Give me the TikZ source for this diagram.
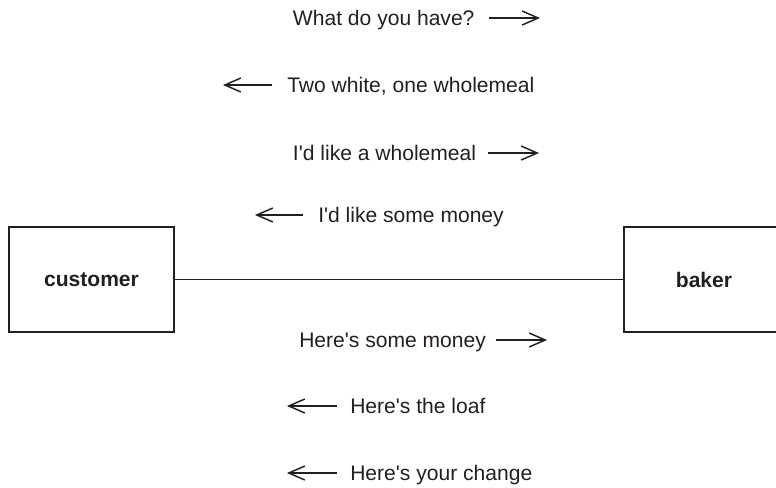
\documentclass[tikz,border=0pt]{standalone}
\usepackage{fontspec}
\setmainfont{Liberation Sans}
\usepackage{xcolor}
\usepackage{tikz}
\usetikzlibrary{arrows.meta}

\definecolor{ink}{RGB}{35,31,32}

\tikzset{
  party/.style={draw=ink, line width=1.3pt, text=ink, inner sep=0pt,
    font=\fontsize{15.8}{19}\selectfont\bfseries},
  msg/.style={text=ink, inner sep=0pt, text height=11.3pt, text depth=0pt,
    font=\fontsize{15.8}{19}\selectfont},
  msgarrow/.style={draw=ink, line width=1.1pt,
    -{Straight Barb[length=12pt,width=10.5pt,line width=1.1pt]}},
  wire/.style={draw=ink, line width=1.2pt}
}

\begin{document}
\begin{tikzpicture}[x=0.75pt,y=0.75pt,yscale=-1,xscale=1]
\useasboundingbox (0,0) rectangle (776,487);

% the two parties
\node[party, minimum width=123.75pt, minimum height=78.75pt] (customer) at (91.5,279.5) {customer};
\node[party, minimum width=120pt, minimum height=78.75pt] (baker) at (704,279.5) {baker};
\draw[wire] (customer.east) -- (baker.west);

% messages above the line
\node[msg, anchor=west] (ask) at (292.7,18) {What do you have?};
\coordinate (askend) at (540,18);
\draw[msgarrow] ([xshift=11]ask.east) -- (askend);

\node[msg, anchor=west] (offer) at (287,85) {Two white, one wholemeal};
\coordinate (offerend) at (223,85);
\draw[msgarrow] ([xshift=-11]offer.west) -- (offerend);

\node[msg, anchor=west] (order) at (292.7,153) {I\textquotesingle d like a wholemeal};
\coordinate (orderend) at (539,153);
\draw[msgarrow] ([xshift=9]order.east) -- (orderend);

\node[msg, anchor=west] (bill) at (318,215) {I\textquotesingle d like some money};
\coordinate (billend) at (255,215);
\draw[msgarrow] ([xshift=-11]bill.west) -- (billend);

% messages below the line
\node[msg, anchor=west] (pay) at (299,340) {Here\textquotesingle s some money};
\coordinate (payend) at (547,340);
\draw[msgarrow] ([xshift=7]pay.east) -- (payend);

\node[msg, anchor=west] (loaf) at (350,406) {Here\textquotesingle s the loaf};
\coordinate (loafend) at (287,406);
\draw[msgarrow] ([xshift=-10]loaf.west) -- (loafend);

\node[msg, anchor=west] (change) at (350,473) {Here\textquotesingle s your change};
\coordinate (changeend) at (287,473);
\draw[msgarrow] ([xshift=-10]change.west) -- (changeend);
\end{tikzpicture}
\end{document}
